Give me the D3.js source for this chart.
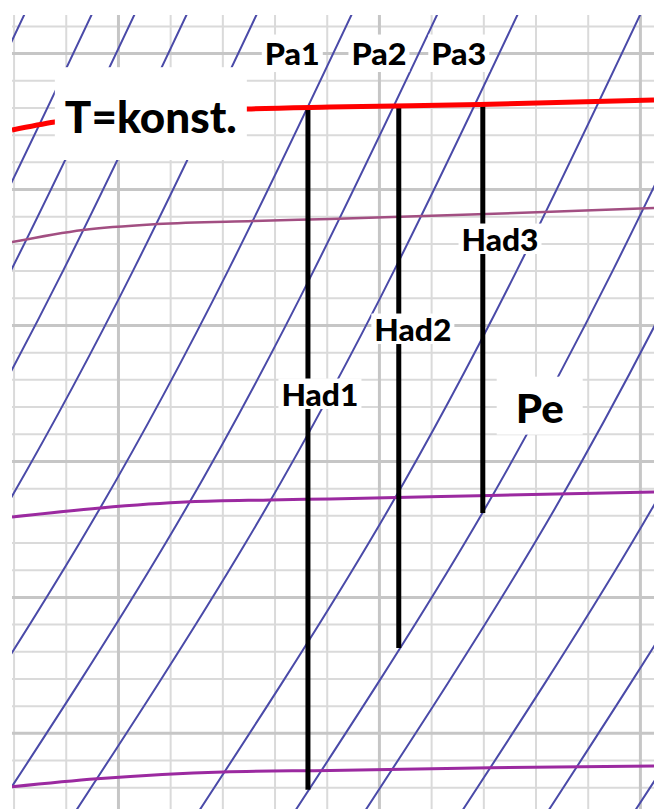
<!DOCTYPE html>
<html>
<head>
<meta charset="utf-8">
<script src="https://cdn.jsdelivr.net/npm/d3@7"></script>
<style>
  html, body { margin: 0; padding: 0; background: #fff; }
  svg { display: block; }
</style>
</head>
<body>
<svg id="chart" width="654" height="809"></svg>
<script>
// ---- h-s (Mollier) chart excerpt: entropy s [kJ/kgK], enthalpy h [kJ/kg] ----

// Grid ticks
const sMajorTicks = [6.5, 7.0, 7.5];
const sMinorTicks = [6.3, 6.4, 6.6, 6.7, 6.8, 6.9, 7.1, 7.2, 7.3, 7.4];
const hMajorTicks = [3500, 3400, 3300, 3200, 3100, 3000];
const hMinorTicks = [3520, 3480, 3460, 3440, 3420, 3380, 3360, 3340, 3320,
                     3280, 3260, 3240, 3220, 3180, 3160, 3140, 3120,
                     3080, 3060, 3040, 3020, 2980, 2960];

// Isobars: entropy read at these enthalpy levels
const isobarH = [3540, 3340, 3140, 2930];
const isobarS = [
  [6.335, 6.084, 5.801, 5.454],
  [6.464, 6.213, 5.929, 5.582],
  [6.546, 6.295, 6.011, 5.665],
  [6.646, 6.395, 6.111, 5.764],
  [6.780, 6.529, 6.245, 5.898],
  [6.962, 6.711, 6.427, 6.080],   // Pa1
  [7.126, 6.875, 6.592, 6.245],   // Pa2
  [7.280, 7.029, 6.745, 6.398],   // Pa3
  [7.515, 7.264, 6.981, 6.634],
  [7.699, 7.448, 7.165, 6.818],   // Pe
  [7.833, 7.582, 7.299, 6.952],
  [8.019, 7.768, 7.485, 7.138],
  [8.184, 7.933, 7.649, 7.303],
  [8.351, 8.100, 7.816, 7.469]
];

// Isotherms
const tKonstS = [6.297, 6.379, 6.561, 6.747, 6.906, 7.193, 7.527];
const tKonstH = [3443.4, 3449.3, 3455.1, 3458.8, 3460.3, 3462.1, 3465.4];
const upperIsoS = [6.297, 6.433, 6.575, 6.759, 6.906, 7.316, 7.527];
const upperIsoH = [3361.0, 3369.9, 3374.3, 3376.5, 3377.9, 3383.1, 3386.0];
const middleIsoS = [6.297, 6.466, 6.638, 6.791, 6.906, 7.213, 7.527];
const middleIsoH = [3158.8, 3165.4, 3169.9, 3171.3, 3172.1, 3174.6, 3177.2];
const lowerIsoS = [6.297, 6.460, 6.701, 6.906, 7.213, 7.527];
const lowerIsoH = [2960.3, 2966.2, 2971.3, 2972.4, 2974.3, 2975.7];

// Adiabatic expansions Had1..Had3 (vertical: constant entropy)
const hadS = [6.864, 7.038, 7.199];
const hadStartH = [3459.9, 3461.1, 3462.2];
const hadEndH = [2958.1, 3062.5, 3161.8];

// Annotation texts, anchored at (s, h) = text centre / baseline
const labelText = ["T=konst.", "Pa1", "Pa2", "Pa3", "Had1", "Had2", "Had3", "Pe"];
const labelKind = ["big", "pa", "pa", "pa", "had", "had", "had", "pe"];
const labelS = [6.563, 6.834, 7.000, 7.153, 6.887, 7.065, 7.232, 7.308];
const labelH = [3441.2, 3491.2, 3491.2, 3491.2, 3240.4, 3288.2, 3354.4, 3228.2];

// ---- styles ----
const labelStyle = {
  big: { size: 43, width: 172, padX: 10, padTop: 35, padBottom: 27 },
  pa:  { size: 30, width: 55, padX: 3, padTop: 9, padBottom: 7 },
  had: { size: 30, width: 77, padX: 3, padTop: 6, padBottom: 3 },
  pe:  { size: 39, width: 48, padX: 19, padTop: 18, padBottom: 12 }
};
const CAP = 0.7165;   // Lato cap height / em

const svg = d3.select("#chart");
const W = 654, H = 809;
const plotLeft = 12, plotTop = 15;

const x = d3.scaleLinear().domain([6.297, 7.527]).range([plotLeft, W]);
const y = d3.scaleLinear().domain([3528, 2944]).range([plotTop, H]);

svg.append("rect").attr("width", W).attr("height", H).attr("fill", "#fff");

svg.append("defs").append("clipPath").attr("id", "plotClip")
  .append("rect").attr("x", plotLeft).attr("y", plotTop)
  .attr("width", W - plotLeft).attr("height", H - plotTop);

const plot = svg.append("g").attr("clip-path", "url(#plotClip)");

// grid through axes
function vGrid(ticks, color, width) {
  const g = plot.append("g").attr("transform", `translate(0,${H})`)
    .call(d3.axisBottom(x).tickValues(ticks).tickSize(-(H - plotTop)).tickFormat(""));
  g.select(".domain").remove();
  g.selectAll("line").attr("stroke", color).attr("stroke-width", width);
}
function hGrid(ticks, color, width) {
  const g = plot.append("g").attr("transform", `translate(${plotLeft},0)`)
    .call(d3.axisLeft(y).tickValues(ticks).tickSize(-(W - plotLeft)).tickFormat(""));
  g.select(".domain").remove();
  g.selectAll("line").attr("stroke", color).attr("stroke-width", width);
}
vGrid(sMinorTicks, "#dadada", 2);
hGrid(hMinorTicks, "#dadada", 2);
vGrid(sMajorTicks, "#c6c6c6", 3);
hGrid(hMajorTicks, "#c6c6c6", 3);

// isobars
const isobarLine = d3.line().x(d => x(d[0])).y(d => y(d[1])).curve(d3.curveNatural);
plot.append("g").selectAll("path")
  .data(isobarS.map(row => row.map((s, i) => [s, isobarH[i]])))
  .join("path")
  .attr("d", isobarLine)
  .attr("fill", "none")
  .attr("stroke", "#4a4aa8")
  .attr("stroke-width", 2);

// isotherms
const isoLine = d3.line().x(d => x(d[0])).y(d => y(d[1])).curve(d3.curveMonotoneX);
function isotherm(sArr, hArr, color, width) {
  plot.append("path")
    .datum(sArr.map((s, i) => [s, hArr[i]]))
    .attr("d", isoLine)
    .attr("fill", "none")
    .attr("stroke", color)
    .attr("stroke-width", width);
}
isotherm(upperIsoS, upperIsoH, "#a24f82", 2.5);
isotherm(middleIsoS, middleIsoH, "#9b2aa0", 3);
isotherm(lowerIsoS, lowerIsoH, "#9b2aa0", 3);

// adiabatic expansion lines
plot.append("g").selectAll("line")
  .data(hadS.map((s, i) => ({ s, h0: hadStartH[i], h1: hadEndH[i] })))
  .join("line")
  .attr("x1", d => x(d.s)).attr("x2", d => x(d.s))
  .attr("y1", d => y(d.h0)).attr("y2", d => y(d.h1))
  .attr("stroke", "#000")
  .attr("stroke-width", 5);

// T = konst. isotherm
isotherm(tKonstS, tKonstH, "#ff0000", 5);

// labels on white boxes
const labels = svg.append("g")
  .attr("font-family", "Lato, 'Open Sans', sans-serif")
  .attr("font-weight", 900);

labelText.forEach((t, i) => {
  const st = labelStyle[labelKind[i]];
  const cx = x(labelS[i]), by = y(labelH[i]);
  const g = labels.append("g");
  const rect = g.append("rect").attr("fill", "#fff");
  g.append("text")
    .attr("x", cx).attr("y", by)
    .attr("text-anchor", "middle")
    .attr("font-size", st.size)
    .attr("textLength", st.width)
    .attr("lengthAdjust", "spacingAndGlyphs")
    .attr("fill", "#000")
    .text(t);
  const cap = st.size * CAP;
  rect.attr("x", cx - st.width / 2 - st.padX)
    .attr("width", st.width + 2 * st.padX)
    .attr("y", by - cap - st.padTop)
    .attr("height", cap + st.padTop + st.padBottom);
});
</script>
</body>
</html>
